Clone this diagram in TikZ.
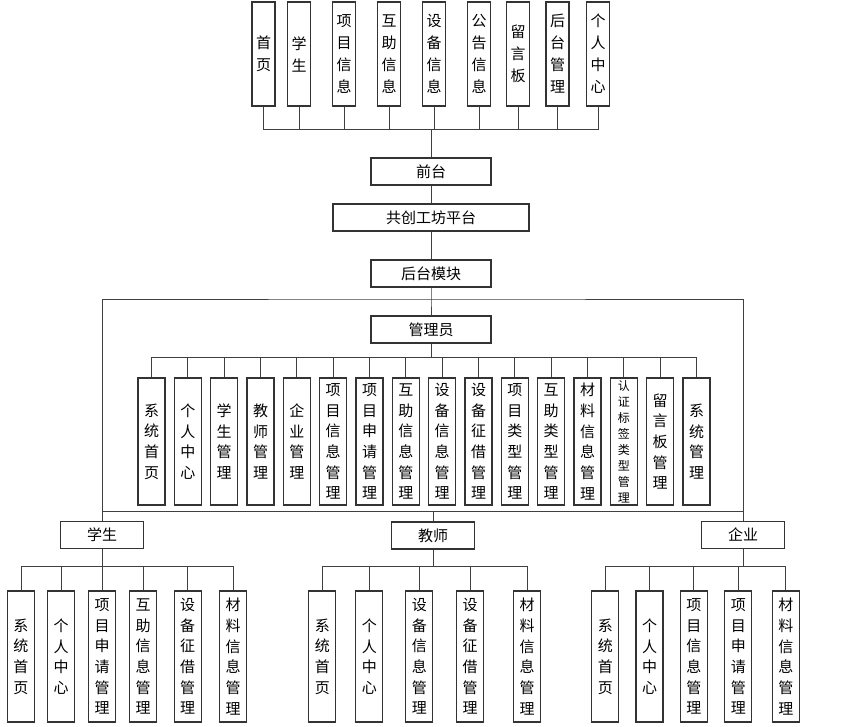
\documentclass[tikz,border=0pt]{standalone}
\usepackage{fontspec}
\newfontfamily\cjk{Noto Sans CJK SC}
\tikzset{
  box/.style={rectangle, draw=black!80, line width=0.9pt, align=center, inner sep=0pt,
              font=\cjk\fontsize{11.25}{15.5}\selectfont},
  hbox/.style={box, minimum width=90pt, minimum height=20.25pt},
  role/.style={box, minimum width=62.5pt, minimum height=20.25pt},
  topbox/.style={box, minimum width=17.25pt, minimum height=78pt,
                 font=\cjk\fontsize{11.25}{16.5}\selectfont},
  admbox/.style={box, minimum width=20.25pt, minimum height=95.25pt},
  leaf/.style={box, minimum width=20.25pt, minimum height=98.25pt},
  ln/.style={draw=black!75, line width=0.75pt},
}
\begin{document}
\begin{tikzpicture}[x=0.75pt,y=-0.75pt]
\useasboundingbox (0,0) rectangle (864,726);
% front-end pages
\node[topbox] (fhome) at (263.5,54) {首\\页};
\node[topbox] (fstu)  at (299,54)   {学\\生};
\node[topbox] (fproj) at (344,54)   {项\\目\\信\\息};
\node[topbox] (fhelp) at (389,54)   {互\\助\\信\\息};
\node[topbox] (fdev)  at (434,54)   {设\\备\\信\\息};
\node[topbox] (fnews) at (479,54)   {公\\告\\信\\息};
\node[topbox] (fmsg)  at (518,54)   {留\\言\\板};
\node[topbox] (fback) at (557.5,54) {后\\台\\管\\理};
\node[topbox] (fme)   at (598,54)   {个\\人\\中\\心};
\coordinate (fbus) at (431,129);
% spine
\node[hbox] (front) at (431,171.5) {前台};
\node[hbox, minimum width=147pt] (plat) at (431,217.5) {共创工坊平台};
\node[hbox] (back) at (431,273.5) {后台模块};
\coordinate (bbus) at (431,299);
\node[hbox] (admin) at (431,329.5) {管理员};
\coordinate (abus) at (431,357);
% administrator modules
\node[admbox] (asys)   at (151.5,441.5) {系\\统\\首\\页};
\node[admbox] (ame)    at (187.8,441.5) {个\\人\\中\\心};
\node[admbox] (astu)   at (224.2,441.5) {学\\生\\管\\理};
\node[admbox] (atea)   at (260.5,441.5) {教\\师\\管\\理};
\node[admbox] (aent)   at (296.8,441.5) {企\\业\\管\\理};
\node[admbox] (aproj)  at (333.2,441.5) {项\\目\\信\\息\\管\\理};
\node[admbox] (aapply) at (369.5,441.5) {项\\目\\申\\请\\管\\理};
\node[admbox] (ahelp)  at (405.8,441.5) {互\\助\\信\\息\\管\\理};
\node[admbox] (adev)   at (442.2,441.5) {设\\备\\信\\息\\管\\理};
\node[admbox] (alend)  at (478.5,441.5) {设\\备\\征\\借\\管\\理};
\node[admbox] (aptype) at (514.8,441.5) {项\\目\\类\\型\\管\\理};
\node[admbox] (ahtype) at (551.2,441.5) {互\\助\\类\\型\\管\\理};
\node[admbox] (amat)   at (587.5,441.5) {材\\料\\信\\息\\管\\理};
\node[admbox, font=\cjk\fontsize{9}{12}\selectfont] (atag) at (623.8,441.5) {认\\证\\标\\签\\类\\型\\管\\理};
\node[admbox] (amsg)   at (660.2,441.5) {留\\言\\板\\管\\理};
\node[admbox] (amgr)   at (696.5,441.5) {系\\统\\管\\理};
\coordinate (mbus) at (433,511);
% user roles
\node[role] (stu) at (102,535)   {学生};
\node[role] (tea) at (433,535.5) {教师};
\node[role] (ent) at (743,535)   {企业};
\coordinate (sbus) at (102,566);
\coordinate (tbus) at (433,566);
\coordinate (ebus) at (743,566);
% student modules
\node[leaf] (shome)  at (21,656.5)    {系\\统\\首\\页};
\node[leaf] (sme)    at (61,656.5)    {个\\人\\中\\心};
\node[leaf] (sapply) at (102,656.5)   {项\\目\\申\\请\\管\\理};
\node[leaf] (shelp)  at (143,656.5)   {互\\助\\信\\息\\管\\理};
\node[leaf] (slend)  at (187.7,656.5) {设\\备\\征\\借\\管\\理};
\node[leaf] (smat)   at (233,656.5)   {材\\料\\信\\息\\管\\理};
% teacher modules
\node[leaf] (thome) at (322.3,656.5) {系\\统\\首\\页};
\node[leaf] (tme)   at (369.3,656.5) {个\\人\\中\\心};
\node[leaf] (tdev)  at (419.3,656.5) {设\\备\\信\\息\\管\\理};
\node[leaf] (tlend) at (470,656.5)   {设\\备\\征\\借\\管\\理};
\node[leaf] (tmat)  at (527,656.5)   {材\\料\\信\\息\\管\\理};
% enterprise modules
\node[leaf] (ehome)  at (605.3,656.5) {系\\统\\首\\页};
\node[leaf] (eme)    at (649.5,656.5) {个\\人\\中\\心};
\node[leaf] (eproj)  at (693.8,656.5) {项\\目\\信\\息\\管\\理};
\node[leaf] (eapply) at (738.3,656.5) {项\\目\\申\\请\\管\\理};
\node[leaf] (emat)   at (785.8,656.5) {材\\料\\信\\息\\管\\理};
% connectors
\draw[ln] (front) -- (fbus) (fhome) |- (fbus) (fstu) |- (fbus) (fproj) |- (fbus)
  (fhelp) |- (fbus) (fdev) |- (fbus) (fnews) |- (fbus) (fmsg) |- (fbus)
  (fback) |- (fbus) (fme) |- (fbus);
\draw[ln] (front) -- (plat) -- (back) -- (bbus) -- (admin) -- (abus);
\draw[ln] (asys) |- (abus) (ame) |- (abus) (astu) |- (abus) (atea) |- (abus)
  (aent) |- (abus) (aproj) |- (abus) (aapply) |- (abus) (ahelp) |- (abus)
  (adev) |- (abus) (alend) |- (abus) (aptype) |- (abus) (ahtype) |- (abus)
  (amat) |- (abus) (atag) |- (abus) (amsg) |- (abus) (amgr) |- (abus);
\draw[ln] (stu) |- (bbus) -| (ent);
\draw[ln] (stu.north |- mbus) -- (ent.north |- mbus) (mbus) -- (tea);
\draw[ln] (stu) -- (sbus) (shome) |- (sbus) (sme) |- (sbus) (sapply) |- (sbus)
  (shelp) |- (sbus) (slend) |- (sbus) (smat) |- (sbus);
\draw[ln] (tea) -- (tbus) (thome) |- (tbus) (tme) |- (tbus) (tdev) |- (tbus)
  (tlend) |- (tbus) (tmat) |- (tbus);
\draw[ln] (ent) -- (ebus) (ehome) |- (ebus) (eme) |- (ebus) (eproj) |- (ebus)
  (eapply) |- (ebus) (emat) |- (ebus);
\end{tikzpicture}
\end{document}
